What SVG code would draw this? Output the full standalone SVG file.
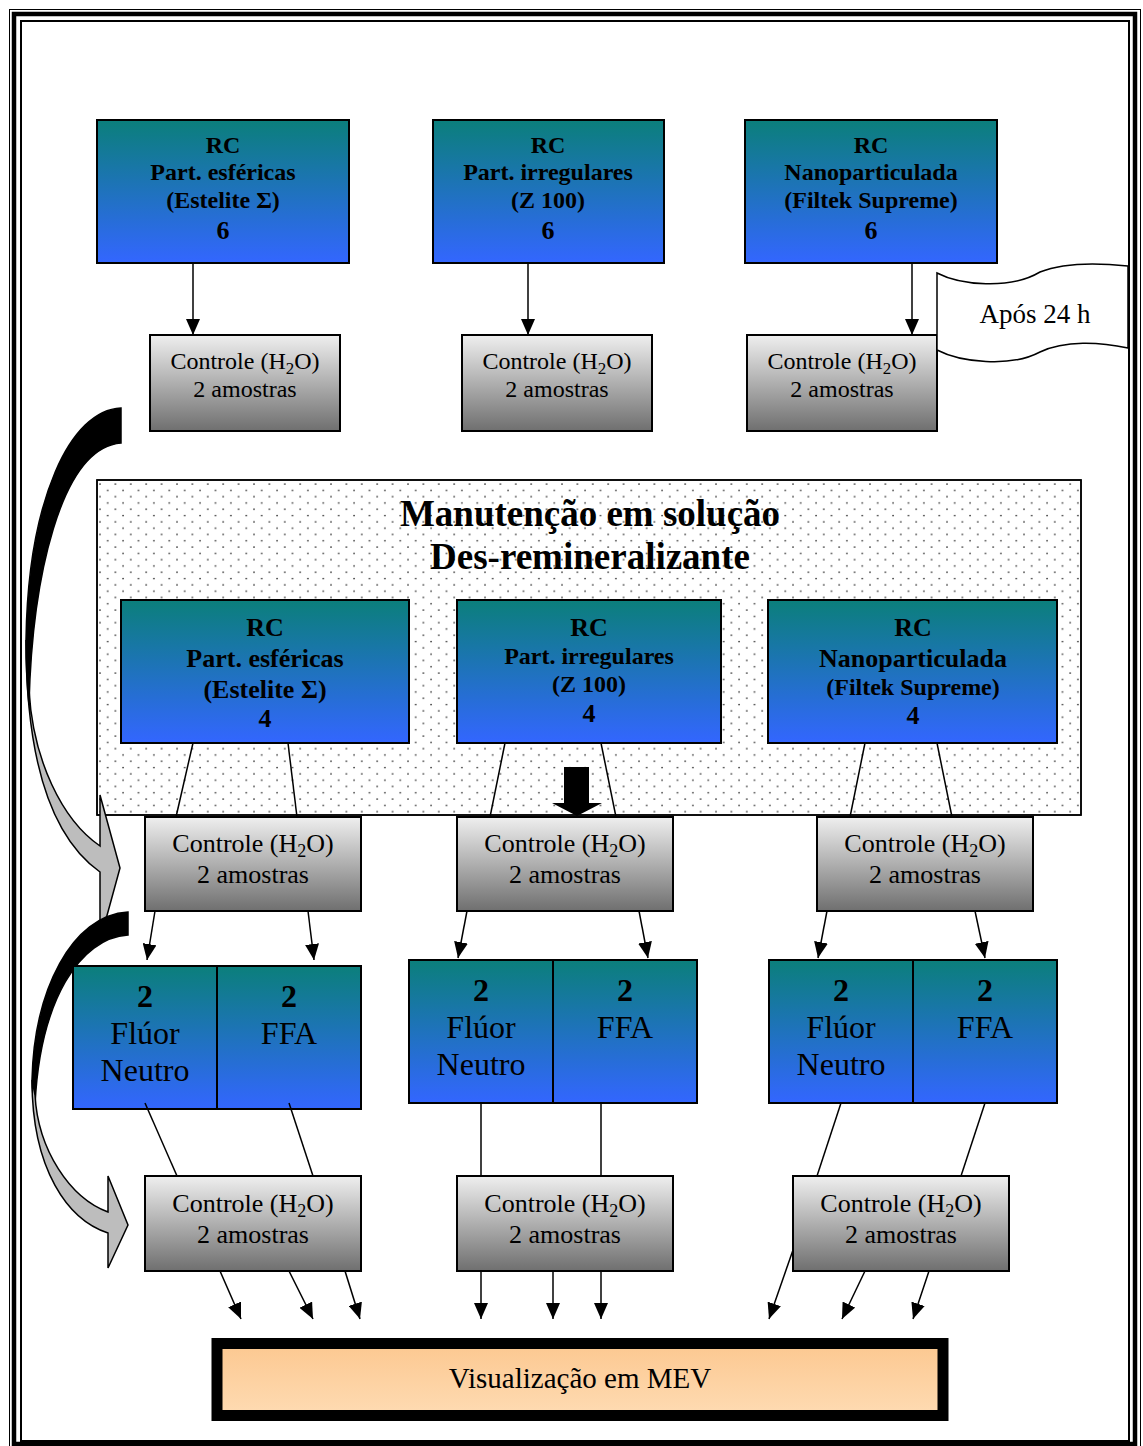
<svg xmlns="http://www.w3.org/2000/svg" width="1143" height="1446" viewBox="0 0 1143 1446">
<defs>
<linearGradient id="blue" x1="0" y1="0" x2="0" y2="1"><stop offset="0" stop-color="#0b7f7b"/><stop offset="1" stop-color="#3366ff"/></linearGradient>
<linearGradient id="gray" x1="0" y1="0" x2="0" y2="1"><stop offset="0" stop-color="#efefef"/><stop offset="1" stop-color="#6f6f6f"/></linearGradient>
<linearGradient id="peach" x1="0" y1="0" x2="0" y2="1"><stop offset="0" stop-color="#fcc890"/><stop offset="1" stop-color="#fedbb3"/></linearGradient>
<pattern id="dots" patternUnits="userSpaceOnUse" x="99" y="483" width="15.4" height="12.6"><circle cx="1" cy="1" r="0.85" fill="#333"/><circle cx="8.7" cy="7.3" r="0.85" fill="#333"/></pattern>
<marker id="ah" markerUnits="userSpaceOnUse" markerWidth="18" markerHeight="14" refX="16" refY="7" orient="auto"><path d="M0,0 L16,7 L0,14 Z" fill="#000"/></marker>
</defs>
<style>
.blue{fill:url(#blue);stroke:#000;stroke-width:2}
.gray{fill:url(#gray);stroke:#000;stroke-width:2}
.b{font-family:"Liberation Serif",serif;font-weight:bold;fill:#000;text-anchor:middle}
.n{font-family:"Liberation Serif",serif;fill:#000;text-anchor:middle}
.ln{stroke:#000;stroke-width:1.5;fill:none}
.ar{stroke:#000;stroke-width:1.5;fill:none;marker-end:url(#ah)}
.c24{font-size:24px}
.c26{font-size:26px}
.s17{font-size:17px}
.s18{font-size:18px}
</style>
<rect width="1143" height="1446" fill="#fff"/>
<g id="frame" fill="none" stroke="#000">
<rect x="9.5" y="9.5" width="1131" height="1445" stroke-width="1"/>
<rect x="14" y="14" width="1121" height="1430" stroke-width="4.5"/>
<rect x="21" y="21" width="1108" height="1420" stroke-width="2"/>
</g>

<g id="top1"><rect class="blue" x="97" y="120" width="252" height="143"/>
<text class="b c24" x="223" y="153">RC</text><text class="b c24" x="223" y="180">Part. esféricas</text><text class="b c24" x="223" y="208">(Estelite Σ)</text><text class="b" font-size="26" x="223" y="239">6</text></g>
<g id="top2"><rect class="blue" x="433" y="120" width="231" height="143"/>
<text class="b c24" x="548" y="153">RC</text><text class="b c24" x="548" y="180">Part. irregulares</text><text class="b c24" x="548" y="208">(Z 100)</text><text class="b" font-size="26" x="548" y="239">6</text></g>
<g id="top3"><rect class="blue" x="745" y="120" width="252" height="143"/>
<text class="b c24" x="871" y="153">RC</text><text class="b c24" x="871" y="180">Nanoparticulada</text><text class="b c24" x="871" y="208">(Filtek Supreme)</text><text class="b" font-size="26" x="871" y="239">6</text></g>

<g id="ctl1a"><rect class="gray" x="150" y="335" width="190" height="96"/>
<text class="n c24" x="245" y="369">Controle (H<tspan class="s17" dy="5">2</tspan><tspan dy="-5">O)</tspan></text><text class="n c24" x="245" y="397">2 amostras</text></g>
<g id="ctl2a"><rect class="gray" x="462" y="335" width="190" height="96"/>
<text class="n c24" x="557" y="369">Controle (H<tspan class="s17" dy="5">2</tspan><tspan dy="-5">O)</tspan></text><text class="n c24" x="557" y="397">2 amostras</text></g>
<g id="ctl3a"><rect class="gray" x="747" y="335" width="190" height="96"/>
<text class="n c24" x="842" y="369">Controle (H<tspan class="s17" dy="5">2</tspan><tspan dy="-5">O)</tspan></text><text class="n c24" x="842" y="397">2 amostras</text></g>

<g id="flag"><path d="M937,273 C960,285 1010,290 1040,272 C1065,262 1100,263 1128,266 L1128,348 C1100,342 1065,340 1040,352 C1010,368 960,362 937,350 Z" fill="#fff" stroke="#000" stroke-width="1.5"/>
<text class="n" font-size="27" x="1035" y="323">Após 24 h</text></g>

<g id="solution"><rect x="97" y="480" width="984" height="335" fill="#fff" stroke="#000" stroke-width="1.5"/>
<rect x="97" y="480" width="984" height="335" fill="url(#dots)" stroke="#000" stroke-width="1.5"/>
<text class="b" font-size="37" x="590" y="526">Manutenção em solução</text>
<text class="b" font-size="37" x="590" y="569">Des-remineralizante</text></g>

<g id="mid1"><rect class="blue" x="121" y="600" width="288" height="143"/>
<text class="b c26" x="265" y="636">RC</text><text class="b c26" x="265" y="667">Part. esféricas</text><text class="b c26" x="265" y="698">(Estelite Σ)</text><text class="b c26" x="265" y="727">4</text></g>
<g id="mid2"><rect class="blue" x="457" y="600" width="264" height="143"/>
<text class="b c26" x="589" y="636">RC</text><text class="b c24" x="589" y="664">Part. irregulares</text><text class="b c24" x="589" y="692">(Z 100)</text><text class="b c26" x="589" y="722">4</text></g>
<g id="mid3"><rect class="blue" x="768" y="600" width="289" height="143"/>
<text class="b c26" x="913" y="636">RC</text><text class="b c26" x="913" y="667">Nanoparticulada</text><text class="b c24" x="913" y="695">(Filtek Supreme)</text><text class="b c26" x="913" y="724">4</text></g>

<g id="bigarrow"><path d="M564,767 L589,767 L589,803 L602,803 L577,816 L552,803 L564,803 Z" fill="#000"/></g>

<g id="ctl1b"><rect class="gray" x="145" y="817" width="216" height="94"/>
<text class="n c26" x="253" y="852">Controle (H<tspan class="s18" dy="5">2</tspan><tspan dy="-5">O)</tspan></text><text class="n c26" x="253" y="883">2 amostras</text></g>
<g id="ctl2b"><rect class="gray" x="457" y="817" width="216" height="94"/>
<text class="n c26" x="565" y="852">Controle (H<tspan class="s18" dy="5">2</tspan><tspan dy="-5">O)</tspan></text><text class="n c26" x="565" y="883">2 amostras</text></g>
<g id="ctl3b"><rect class="gray" x="817" y="817" width="216" height="94"/>
<text class="n c26" x="925" y="852">Controle (H<tspan class="s18" dy="5">2</tspan><tspan dy="-5">O)</tspan></text><text class="n c26" x="925" y="883">2 amostras</text></g>

<g id="curve1">
<path d="M121,408 C70,410 28,500 26,640 C26,665 27,685 29,705 C32,580 60,448 121,443 Z" fill="#000" stroke="#000" stroke-width="1.5"/>
<path d="M26,640 C26,770 55,840 100,872 L100,941 L120,868 L100,795 L100,846 C62,820 33,760 29,690 Z" fill="#bdbdbd" stroke="#000" stroke-width="1.5"/>
</g>
<g id="curve2">
<path d="M128,912 C72,915 34,990 32,1080 C32,1090 33,1098 35,1105 C40,1000 80,938 128,935 Z" fill="#000" stroke="#000" stroke-width="1.5"/>
<path d="M32,1080 C32,1170 68,1220 108,1233 L108,1268 L128,1225 L108,1176 L108,1212 C70,1198 38,1150 35,1095 Z" fill="#bdbdbd" stroke="#000" stroke-width="1.5"/>
</g>

<g id="pair1a"><rect class="blue" x="73" y="966" width="144" height="143"/>
<text class="b" font-size="32" x="145" y="1007">2</text><text class="n" font-size="32" x="145" y="1044">Flúor</text><text class="n" font-size="32" x="145" y="1081">Neutro</text></g>
<g id="pair1b"><rect class="blue" x="217" y="966" width="144" height="143"/>
<text class="b" font-size="32" x="289" y="1007">2</text><text class="n" font-size="32" x="289" y="1044">FFA</text></g>
<g id="pair2a"><rect class="blue" x="409" y="960" width="144" height="143"/>
<text class="b" font-size="32" x="481" y="1001">2</text><text class="n" font-size="32" x="481" y="1038">Flúor</text><text class="n" font-size="32" x="481" y="1075">Neutro</text></g>
<g id="pair2b"><rect class="blue" x="553" y="960" width="144" height="143"/>
<text class="b" font-size="32" x="625" y="1001">2</text><text class="n" font-size="32" x="625" y="1038">FFA</text></g>
<g id="pair3a"><rect class="blue" x="769" y="960" width="144" height="143"/>
<text class="b" font-size="32" x="841" y="1001">2</text><text class="n" font-size="32" x="841" y="1038">Flúor</text><text class="n" font-size="32" x="841" y="1075">Neutro</text></g>
<g id="pair3b"><rect class="blue" x="913" y="960" width="144" height="143"/>
<text class="b" font-size="32" x="985" y="1001">2</text><text class="n" font-size="32" x="985" y="1038">FFA</text></g>

<g id="ctl1c"><rect class="gray" x="145" y="1176" width="216" height="95"/>
<text class="n c26" x="253" y="1212">Controle (H<tspan class="s18" dy="5">2</tspan><tspan dy="-5">O)</tspan></text><text class="n c26" x="253" y="1243">2 amostras</text></g>
<g id="ctl2c"><rect class="gray" x="457" y="1176" width="216" height="95"/>
<text class="n c26" x="565" y="1212">Controle (H<tspan class="s18" dy="5">2</tspan><tspan dy="-5">O)</tspan></text><text class="n c26" x="565" y="1243">2 amostras</text></g>
<g id="ctl3c"><rect class="gray" x="793" y="1176" width="216" height="95"/>
<text class="n c26" x="901" y="1212">Controle (H<tspan class="s18" dy="5">2</tspan><tspan dy="-5">O)</tspan></text><text class="n c26" x="901" y="1243">2 amostras</text></g>

<g id="mev"><rect x="217" y="1343.5" width="726" height="72" fill="url(#peach)" stroke="#000" stroke-width="11"/>
<text class="n" font-size="29" x="580" y="1388">Visualização em MEV</text></g>

<g id="connectors">
<line class="ar" x1="193" y1="263" x2="193" y2="335"/>
<line class="ar" x1="528" y1="263" x2="528" y2="335"/>
<line class="ar" x1="912" y1="263" x2="912" y2="335"/>
<line class="ln" x1="193" y1="743" x2="176" y2="817"/>
<line class="ln" x1="288" y1="743" x2="297" y2="817"/>
<line class="ln" x1="505" y1="743" x2="490" y2="817"/>
<line class="ln" x1="601" y1="743" x2="616" y2="817"/>
<line class="ln" x1="865" y1="743" x2="850" y2="817"/>
<line class="ln" x1="937" y1="743" x2="952" y2="817"/>
<line class="ar" x1="155" y1="911" x2="147" y2="960"/>
<line class="ar" x1="308" y1="911" x2="314" y2="960"/>
<line class="ar" x1="467" y1="911" x2="458" y2="958"/>
<line class="ar" x1="639" y1="911" x2="648" y2="958"/>
<line class="ar" x1="827" y1="911" x2="818" y2="958"/>
<line class="ar" x1="975" y1="911" x2="985" y2="958"/>
<line class="ln" x1="145" y1="1103" x2="177" y2="1176"/>
<line class="ln" x1="289" y1="1103" x2="313" y2="1176"/>
<line class="ln" x1="481" y1="1103" x2="481" y2="1176"/>
<line class="ln" x1="601" y1="1103" x2="601" y2="1176"/>
<line class="ln" x1="841" y1="1103" x2="817" y2="1176"/>
<line class="ln" x1="985" y1="1103" x2="961" y2="1176"/>
<line class="ar" x1="220" y1="1271" x2="241" y2="1319"/>
<line class="ar" x1="289" y1="1271" x2="313" y2="1319"/>
<line class="ar" x1="345" y1="1271" x2="360" y2="1319"/>
<line class="ar" x1="481" y1="1271" x2="481" y2="1319"/>
<line class="ar" x1="553" y1="1271" x2="553" y2="1319"/>
<line class="ar" x1="601" y1="1271" x2="601" y2="1319"/>
<line class="ar" x1="793" y1="1250" x2="769" y2="1319"/>
<line class="ar" x1="865" y1="1271" x2="842" y2="1319"/>
<line class="ar" x1="929" y1="1271" x2="913" y2="1319"/>
</g>
</svg>
